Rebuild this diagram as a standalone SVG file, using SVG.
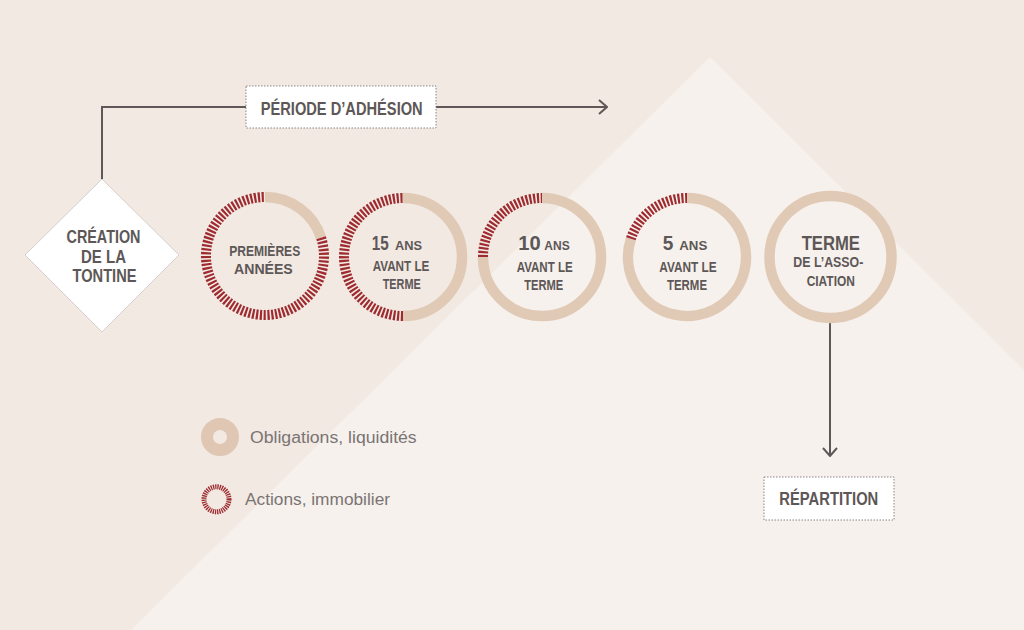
<svg xmlns="http://www.w3.org/2000/svg" width="1024" height="630" viewBox="0 0 1024 630">
  <defs>
    <style>
      .bold { font-family: "Liberation Sans", Arial, sans-serif; font-weight: bold; fill: #5d5757; text-anchor: middle; }
      .leg { font-family: "Liberation Sans", Arial, sans-serif; fill: #7a7473; font-size: 16px; }
      .ring { fill: none; stroke: #e0cab6; stroke-width: 10.5; }
      .red { fill: none; stroke: #9e2b30; stroke-width: 10; stroke-dasharray: 2.2 1.6; }
      .conn { fill: none; stroke: #5e5858; stroke-width: 2; }
      .box { fill: #ffffff; stroke: #8a8585; stroke-width: 1; stroke-dasharray: 1.5 1.5; }
    </style>
    <marker id="arrow" viewBox="0 0 10 16" refX="9" refY="8" markerWidth="10" markerHeight="16" markerUnits="userSpaceOnUse" orient="auto">
      <path d="M1,1 L9,8 L1,15" fill="none" stroke="#5e5858" stroke-width="2"/>
    </marker>
  </defs>

  <g id="background">
    <rect x="0" y="0" width="1024" height="630" fill="#f2e9e2"/>
    <polygon points="710,57 1024,370 1024,630 131,630" fill="#f6f1ec"/>
  </g>

  <g id="connectors">
    <path class="conn" d="M102 179 V107 H246"/>
    <path class="conn" d="M436 107 H607" marker-end="url(#arrow)"/>
    <path class="conn" d="M830 321 V456" marker-end="url(#arrow)"/>
  </g>

  <g id="creation">
    <polygon points="102,179 179,255 102,332 25,255" fill="#ffffff" stroke="#d5d0ce" stroke-width="1"/>
    <text class="bold" font-size="17.5" x="103.5" y="243.3" textLength="74" lengthAdjust="spacingAndGlyphs">CRÉATION</text>
    <text class="bold" font-size="17.5" x="103.5" y="262.7" textLength="45" lengthAdjust="spacingAndGlyphs">DE LA</text>
    <text class="bold" font-size="17.5" x="104.5" y="281.7" textLength="64" lengthAdjust="spacingAndGlyphs">TONTINE</text>
  </g>

  <g id="periode">
    <rect class="box" x="246" y="86" width="190" height="42"/>
    <text class="bold" font-size="18" x="341.7" y="115" textLength="162" lengthAdjust="spacingAndGlyphs">PÉRIODE D’ADHÉSION</text>
  </g>

  <g id="premieres">
    <path class="ring" d="M265 197 A59 59 0 0 1 321.1 237.8"/>
    <path class="red" d="M321.1 237.8 A59 59 0 1 1 265 197"/>
    <text class="bold" font-size="15" x="264.7" y="256" textLength="71" lengthAdjust="spacingAndGlyphs">PREMIÈRES</text>
    <text class="bold" font-size="15" x="263.4" y="274" textLength="58.7" lengthAdjust="spacingAndGlyphs">ANNÉES</text>
  </g>

  <g id="ans15">
    <path class="ring" d="M403 198 A59 59 0 0 1 403 316"/>
    <path class="red" d="M403 316 A59 59 0 0 1 403 198"/>
    <text class="bold" font-size="21" x="380.3" y="250" textLength="17" lengthAdjust="spacingAndGlyphs">15</text>
    <text class="bold" font-size="12" x="408.5" y="250" textLength="27" lengthAdjust="spacingAndGlyphs">ANS</text>
    <text class="bold" font-size="14.5" x="401" y="270.7" textLength="56.7" lengthAdjust="spacingAndGlyphs">AVANT LE</text>
    <text class="bold" font-size="14.5" x="401.7" y="288.8" textLength="38" lengthAdjust="spacingAndGlyphs">TERME</text>
  </g>

  <g id="ans10">
    <path class="ring" d="M542 198 A59 59 0 1 1 483 257"/>
    <path class="red" d="M483 257 A59 59 0 0 1 542 198"/>
    <text class="bold" font-size="21" x="529.5" y="250" textLength="22.4" lengthAdjust="spacingAndGlyphs">10</text>
    <text class="bold" font-size="12" x="557" y="250" textLength="25.3" lengthAdjust="spacingAndGlyphs">ANS</text>
    <text class="bold" font-size="14.5" x="544.7" y="271.5" textLength="56" lengthAdjust="spacingAndGlyphs">AVANT LE</text>
    <text class="bold" font-size="14.5" x="543.7" y="290" textLength="39" lengthAdjust="spacingAndGlyphs">TERME</text>
  </g>

  <g id="ans5">
    <path class="ring" d="M687 198 A59 59 0 1 1 630.9 238.8"/>
    <path class="red" d="M630.9 238.8 A59 59 0 0 1 687 198"/>
    <text class="bold" font-size="21" x="668" y="250" textLength="10.6" lengthAdjust="spacingAndGlyphs">5</text>
    <text class="bold" font-size="12" x="693.3" y="250" textLength="28" lengthAdjust="spacingAndGlyphs">ANS</text>
    <text class="bold" font-size="14.5" x="688" y="271.5" textLength="57.4" lengthAdjust="spacingAndGlyphs">AVANT LE</text>
    <text class="bold" font-size="14.5" x="687" y="290" textLength="40" lengthAdjust="spacingAndGlyphs">TERME</text>
  </g>

  <g id="terme">
    <circle class="ring" cx="830.5" cy="257" r="61"/>
    <text class="bold" font-size="21" x="830.8" y="250" textLength="58.3" lengthAdjust="spacingAndGlyphs">TERME</text>
    <text class="bold" font-size="14" x="828.3" y="267.3" textLength="70" lengthAdjust="spacingAndGlyphs">DE L’ASSO-</text>
    <text class="bold" font-size="14" x="830.8" y="286" textLength="48.3" lengthAdjust="spacingAndGlyphs">CIATION</text>
  </g>

  <g id="repartition">
    <rect class="box" x="764" y="477" width="130" height="43"/>
    <text class="bold" font-size="17.5" x="828.8" y="505" textLength="99" lengthAdjust="spacingAndGlyphs">RÉPARTITION</text>
  </g>

  <g id="legend-obligations">
    <circle cx="220" cy="437" r="13" fill="none" stroke="#dfc7b3" stroke-width="12"/>
    <text class="leg" x="250" y="443.3" textLength="166.7" lengthAdjust="spacingAndGlyphs">Obligations, liquidités</text>
  </g>

  <g id="legend-actions">
    <circle cx="216.5" cy="499.3" r="12.5" fill="none" stroke="#9e2b30" stroke-width="5" stroke-dasharray="1.3 0.9"/>
    <text class="leg" x="245" y="505" textLength="145" lengthAdjust="spacingAndGlyphs">Actions, immobilier</text>
  </g>
</svg>
